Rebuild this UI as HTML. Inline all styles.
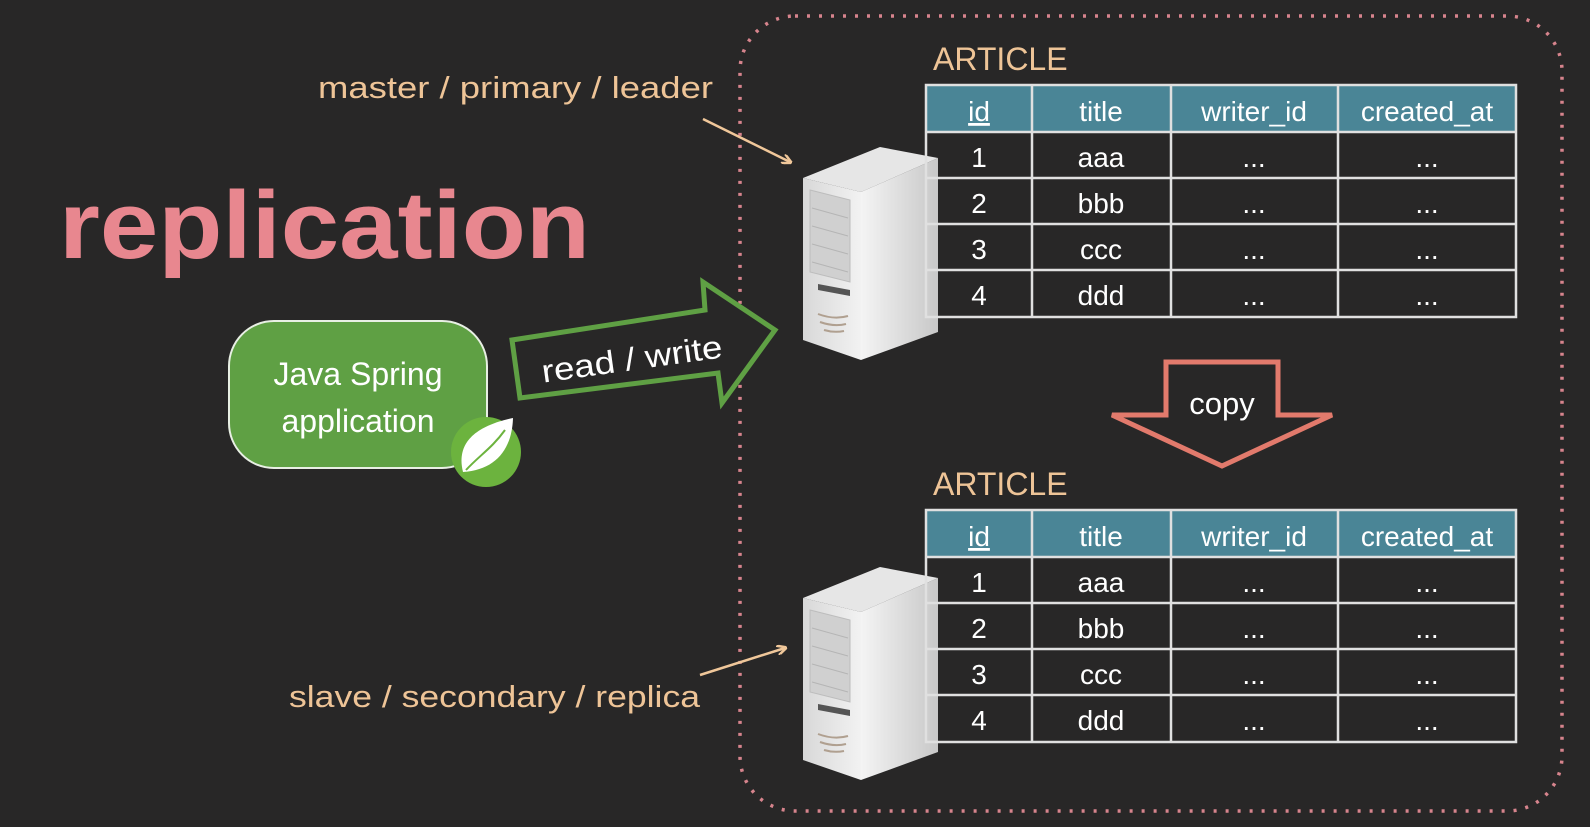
<!DOCTYPE html>
<html><head><meta charset="utf-8"><style>
html,body{margin:0;padding:0;background:#282727;}
svg{display:block}
text{font-family:"Liberation Sans","DejaVu Sans",sans-serif;}
</style></head><body>
<svg width="1590" height="827" viewBox="0 0 1590 827" xmlns="http://www.w3.org/2000/svg">
<defs>
<linearGradient id="front" x1="0" x2="1" y1="0" y2="0"><stop offset="0" stop-color="#d8d8d8"/><stop offset="1" stop-color="#f2f2f2"/></linearGradient>
<linearGradient id="side" x1="0" x2="1"><stop offset="0" stop-color="#f4f4f4"/><stop offset="1" stop-color="#c8c8c8"/></linearGradient>
<g id="server">
<polygon points="803,178 880,147 938,158 861,192" fill="#e6e6e6"/>
<polygon points="861,192 938,158 938,332 861,360" fill="url(#side)"/>
<polygon points="803,178 861,192 861,360 803,340" fill="url(#front)"/>
<polygon points="810,190 850,200 850,282 810,272" fill="#d0d0d0" stroke="#bdbdbd"/>
<line x1="812" y1="208" x2="848" y2="218" stroke="#b5b5b5"/>
<line x1="812" y1="226" x2="848" y2="236" stroke="#b5b5b5"/>
<line x1="812" y1="244" x2="848" y2="254" stroke="#b5b5b5"/>
<line x1="812" y1="262" x2="848" y2="272" stroke="#b5b5b5"/>
<polygon points="818,284 850,290 850,296 818,290" fill="#555"/>
<path d="M818 314 q16 6 30 2 M820 322 q14 5 26 2 M824 330 q10 3 20 1" stroke="#b0a090" stroke-width="2" fill="none"/>
</g>
<marker id="ah" markerWidth="10" markerHeight="10" refX="8" refY="5" orient="auto" markerUnits="userSpaceOnUse"><path d="M0,0 L10,5 L0,10" fill="none" stroke="#f0c79a" stroke-width="2.5"/></marker>
</defs>

<rect x="740" y="16" width="822" height="795" rx="55" fill="none" stroke="#d7848d" stroke-width="3.5" stroke-dasharray="3 9"/>

<text x="59" y="258" font-size="96" fill="#e8878f" font-weight="bold" textLength="531" lengthAdjust="spacingAndGlyphs">replication</text>

<text x="318" y="98" font-size="31" fill="#eec497" textLength="395" lengthAdjust="spacingAndGlyphs">master / primary / leader</text>
<line x1="703" y1="119" x2="790" y2="162" stroke="#f0c79a" stroke-width="2.5" marker-end="url(#ah)"/>
<text x="289" y="707" font-size="31" fill="#eec497" textLength="411" lengthAdjust="spacingAndGlyphs">slave / secondary / replica</text>
<line x1="700" y1="675" x2="785" y2="648" stroke="#f0c79a" stroke-width="2.5" marker-end="url(#ah)"/>

<rect x="229" y="321" width="258" height="147" rx="45" fill="#5fa044" stroke="#e8efe4" stroke-width="2"/>
<text x="358" y="385" font-size="32" fill="#fff" text-anchor="middle">Java Spring</text>
<text x="358" y="432" font-size="32" fill="#fff" text-anchor="middle">application</text>
<circle cx="486" cy="452" r="35" fill="#6cb33e"/>
<path d="M463 472 C455 440 480 425 513 418 C512 450 495 470 463 472 Z" fill="#fff"/>
<path d="M466 470 C480 455 492 448 505 430" stroke="#6cb33e" stroke-width="2" fill="none"/>

<polygon points="520,398 512,340 705,310 703,282 775,330 722,403 718,373" fill="#282727" stroke="#5fa044" stroke-width="5" stroke-linejoin="miter"/>
<text x="632" y="370" font-size="32" fill="#fff" text-anchor="middle" transform="rotate(-8 632 360)" textLength="182" lengthAdjust="spacingAndGlyphs">read / write</text>

<use href="#server"/>
<use href="#server" transform="translate(0,420)"/>

<polygon points="1166,362 1278,362 1278,415 1332,415 1222,466 1112,415 1166,415" fill="#282727" stroke="#e27a6c" stroke-width="5"/>
<text x="1222" y="414" font-size="31" fill="#fff" text-anchor="middle">copy</text>

<g id="tbl">
<text x="933" y="70" font-size="32" fill="#eec497">ARTICLE</text>
<rect x="926" y="85" width="590" height="47" fill="#4a8596"/>
<rect x="926" y="85" width="590" height="232" fill="none" stroke="#e0e0e0" stroke-width="2.5"/>
<g stroke="#e0e0e0" stroke-width="2.5">
<line x1="926" y1="132" x2="1516" y2="132"/><line x1="926" y1="178" x2="1516" y2="178"/>
<line x1="926" y1="224" x2="1516" y2="224"/><line x1="926" y1="270" x2="1516" y2="270"/>
<line x1="1032" y1="85" x2="1032" y2="317"/><line x1="1171" y1="85" x2="1171" y2="317"/><line x1="1338" y1="85" x2="1338" y2="317"/>
</g>
<g font-size="28" fill="#fff" text-anchor="middle">
<text x="979" y="121" text-decoration="underline">id</text><text x="1101" y="121">title</text><text x="1254" y="121">writer_id</text><text x="1427" y="121">created_at</text>
<text x="979" y="167">1</text><text x="1101" y="167">aaa</text><text x="1254" y="167">...</text><text x="1427" y="167">...</text>
<text x="979" y="213">2</text><text x="1101" y="213">bbb</text><text x="1254" y="213">...</text><text x="1427" y="213">...</text>
<text x="979" y="259">3</text><text x="1101" y="259">ccc</text><text x="1254" y="259">...</text><text x="1427" y="259">...</text>
<text x="979" y="305">4</text><text x="1101" y="305">ddd</text><text x="1254" y="305">...</text><text x="1427" y="305">...</text>
</g>
</g>
<use href="#tbl" transform="translate(0,425)"/>
</svg>
</body></html>
